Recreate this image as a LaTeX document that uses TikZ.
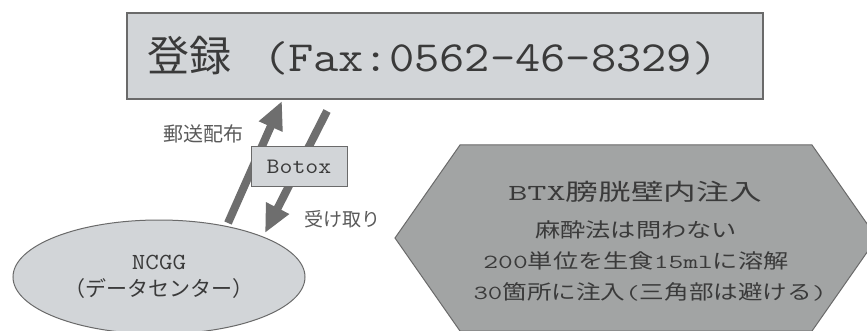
\documentclass[tikz,border=0pt]{standalone}
\usepackage{fontspec}
\usepackage{graphicx}
\setmainfont{Liberation Serif}
\newfontfamily\cour[FakeStretch=1.14]{Latin Modern Mono}
\newfontfamily\jp{Noto Sans CJK JP}
\usetikzlibrary{shapes.geometric,arrows.meta}
\definecolor{lightfill}{HTML}{D2D5D8}
\definecolor{hexfill}{HTML}{A2A4A4}
\definecolor{edge}{HTML}{6A6A6A}
\definecolor{arrowgray}{HTML}{6E6E6E}
\definecolor{txt}{HTML}{3A3A3A}
\definecolor{lbl}{HTML}{5A5A5A}
\tikzset{
  topbox/.style={draw=edge, line width=1.2pt, fill=lightfill, rectangle, inner sep=0pt,
    minimum width=636pt, minimum height=86pt, text width=596pt, align=left, text=txt},
  smallbox/.style={draw=edge, line width=1pt, fill=lightfill, rectangle, inner sep=0pt,
    minimum width=96pt, minimum height=40pt, text=txt},
  center/.style={draw=edge, line width=1pt, fill=lightfill, ellipse, inner sep=0pt,
    minimum width=292pt, minimum height=114pt, align=center, text=txt,
    font=\fontsize{21}{27}\selectfont},
  hexshape/.style={draw=edge, line width=1pt, fill=hexfill},
  thickarrow/.style={draw=arrowgray, line width=8pt, -{Triangle[length=28pt,width=24pt]}},
  label/.style={text=lbl, inner sep=0pt},
  hextext/.style={text=txt, inner sep=0pt}
}
\begin{document}
\begin{tikzpicture}[x=1pt,y=-1pt]
\useasboundingbox (0,0) rectangle (867,331);
\clip (0,0) rectangle (867,331);
\fill[white] (0,0) rectangle (867,331);

% top box
\node[topbox] (reg) at (445,56) {\fontsize{42}{50}\selectfont{\jp 登録}\hspace{32pt}{\fontsize{43}{50}\selectfont\cour (Fax:0562-46-8329)}};

% ellipse
\node[center] (ncgg) at (159,277) {{\fontsize{23}{27}\selectfont\cour NCGG}\\{\jp （データセンター）}};

% hexagon
\coordinate (h1) at (395,238);
\coordinate (h2) at (460,145);
\coordinate (h3) at (812,145);
\coordinate (h4) at (877,238);
\coordinate (h5) at (812,331);
\coordinate (h6) at (460,331);
\draw[hexshape] (h1) -- (h2) -- (h3) -- (h4) -- (h5) -- (h6) -- cycle;
\node[hextext] (t1) at (635,192) {\scalebox{1.42}[1]{\fontsize{23}{28}\selectfont{\cour BTX}{\jp 膀胱壁内注入}}};
\node[hextext] (t2) at (636,230) {\scalebox{1.26}[1]{\fontsize{20}{24}\selectfont{\jp 麻酔法は問わない}}};
\node[hextext] (t3) at (636,261) {\scalebox{1.26}[1]{\fontsize{20}{24}\selectfont{\cour 200}{\jp 単位を生食}{\cour 15ml}{\jp に溶解}}};
\node[hextext] (t4) at (650,292) {\scalebox{1.23}[1]{\fontsize{20}{24}\selectfont{\cour 30}{\jp 箇所に注入}{\cour (}{\jp 三角部は避ける}{\cour )}}};

% arrows
\coordinate (upS) at (228,223);
\coordinate (upE) at (282,101);
\coordinate (dnS) at (327,111);
\coordinate (dnE) at (265,233);
\draw[thickarrow] (upS) -- (upE);
\draw[thickarrow] (dnS) -- (dnE);

% botox box
\node[smallbox] (botox) at (299,167) {\fontsize{22}{25}\selectfont\cour Botox};

% labels
\node[label] (send) at (203,134) {\fontsize{20}{24}\selectfont\jp 郵送配布};
\node[label] (recv) at (342,219) {\fontsize{19}{23}\selectfont\jp 受け取り};
\end{tikzpicture}
\end{document}
